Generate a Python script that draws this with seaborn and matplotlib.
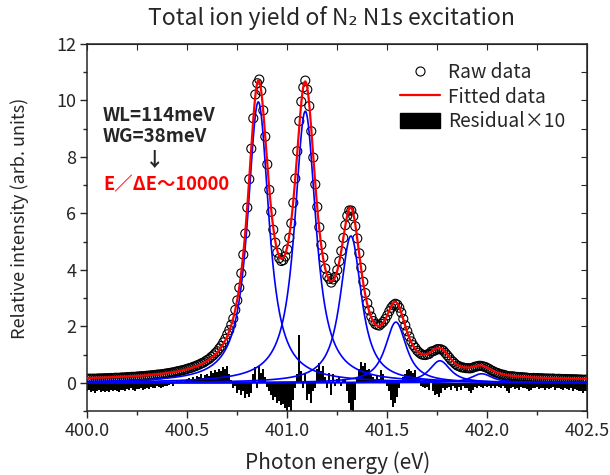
import numpy as np
import pandas as pd
import matplotlib
matplotlib.use("Agg")
import matplotlib.pyplot as plt
from matplotlib.lines import Line2D
from matplotlib.patches import Patch
from matplotlib.ticker import MultipleLocator
import seaborn as sns

sns.set_style("ticks")
plt.rcParams['font.family'] = ['Noto Sans CJK JP', 'DejaVu Sans']
plt.rcParams['axes.unicode_minus'] = False

# --- data ---
# vibrational components of the N1s -> pi* band (centre eV, peak height)
peak_centers = [400.855, 401.090, 401.318, 401.543, 401.763, 401.972]
peak_heights = [9.95, 9.62, 5.20, 2.15, 0.78, 0.32]
background = 0.08
wl = 0.114   # Lorentzian FWHM (eV), from the annotation
wg = 0.038   # Gaussian FWHM (eV)

# raw data sampled every 10 meV from 400.00 to 402.50
energy = np.round(np.arange(400.0, 402.5001, 0.01), 2)

# residual x10 (raw - fit), one value per data point
residual_x10 = [
    -0.30, -0.25, -0.32, -0.28, -0.35, -0.30, -0.27, -0.33, -0.29, -0.31,
    -0.28, -0.34, -0.26, -0.30, -0.24, -0.29, -0.32, -0.25, -0.27, -0.30,
    -0.22, -0.26, -0.20, -0.24, -0.28, -0.21, -0.23, -0.19, -0.25, -0.22,
    -0.18, -0.22, -0.15, -0.20, -0.17, -0.12, -0.16, -0.19, -0.14, -0.10,
    -0.12, -0.08, -0.05, -0.10, -0.02, 0.05, 0.03, 0.08, 0.02, 0.10,
    0.12, 0.18, 0.10, 0.22, 0.15, 0.25, 0.20, 0.30, 0.18, 0.28,
    0.32, 0.25, 0.40, 0.35, 0.45, 0.38, 0.50, 0.42, 0.55, 0.48,
    0.60, 0.30, 0.10, -0.20, -0.10, -0.35, -0.25, -0.45, -0.30, -0.55,
    -0.40, -0.50, -0.35, 0.30, 0.55, -0.20, 0.60, 0.35, 0.50, 0.20,
    -0.15, -0.30, -0.45, -0.60, -0.50, -0.70, -0.65, -0.80, -0.75, -0.90,
    -1.00, -0.85, -1.05, -0.60, -0.20, 0.30, 1.70, 0.40, -0.20, 0.30,
    -0.60, -0.40, -0.70, -0.30, -0.20, 0.50, 0.70, 0.40, 0.60, 0.20,
    -0.20, 0.35, -0.45, 0.30, -0.10, 0.15, 0.20, -0.10, 0.10, 0.15,
    -0.30, -0.70, -0.95, -1.00, -0.60, 0.20, 0.50, 0.75, 0.60, 0.70,
    0.45, 0.50, 0.30, 0.20, 0.10, 0.25, 0.15, 0.45, 0.30, 0.10,
    -0.10, -0.30, -0.60, -0.85, -0.70, -0.50, -0.20, 0.10, 0.20, 0.30,
    0.45, 0.50, 0.40, 0.35, 0.45, 0.20, 0.10, -0.10, -0.15, -0.20,
    -0.15, -0.25, 0.10, -0.30, -0.45, -0.40, -0.50, -0.35, -0.20, -0.25,
    -0.20, -0.15, -0.25, -0.10, -0.20, -0.30, -0.15, -0.25, -0.10, -0.20,
    -0.20, -0.30, -0.35, -0.25, -0.15, -0.20, -0.10, -0.15, -0.20, -0.12,
    -0.15, -0.10, -0.20, -0.12, -0.18, -0.10, -0.15, -0.20, -0.12, -0.18,
    -0.30, -0.35, -0.20, -0.15, -0.22, -0.18, -0.25, -0.15, -0.20, -0.18,
    -0.22, -0.30, -0.25, -0.18, -0.20, -0.15, -0.22, -0.18, -0.20, -0.25,
    -0.18, -0.22, -0.20, -0.15, -0.25, -0.20, -0.18, -0.22, -0.25, -0.20,
    -0.22, -0.25, -0.20, -0.28, -0.22, -0.25, -0.30, -0.28, -0.35, -0.30,
    -0.28,
]


# Voigt profile (numerical convolution), normalised to 1 at the centre
def voigt(x, center):
    gamma = wl / 2
    sigma = wg / 2.3548
    t = np.linspace(-6 * sigma, 6 * sigma, 241)
    g = np.exp(-t ** 2 / (2 * sigma ** 2))
    dx = x[:, None] - center - t[None, :]
    v = (g[None, :] * gamma ** 2 / (dx ** 2 + gamma ** 2)).sum(axis=1)
    v0 = (g * gamma ** 2 / (t ** 2 + gamma ** 2)).sum()
    return v / v0


x_fine = np.linspace(400.0, 402.5, 2501)
components = [h * voigt(x_fine, c) for c, h in zip(peak_centers, peak_heights)]
fit_fine = background + np.sum(components, axis=0)

fit_at_data = np.interp(energy, x_fine, fit_fine)
raw = fit_at_data + np.array(residual_x10) / 10.0

df_raw = pd.DataFrame({'energy': energy, 'intensity': raw, 'resid': residual_x10})

# --- plot ---
fig = plt.figure(figsize=(6.1, 4.75), dpi=100)
ax = fig.add_axes([0.1431, 0.1347, 0.8197, 0.7726])

ax.bar(df_raw['energy'], df_raw['resid'], width=0.0095, color='black', linewidth=0, zorder=1)

sns.scatterplot(data=df_raw, x='energy', y='intensity', marker='o', s=42,
                facecolor='none', edgecolor='black', linewidth=0.8, ax=ax, zorder=2)

for comp in components:
    sns.lineplot(x=x_fine, y=comp, color='#0000FF', lw=1.2, ax=ax,
                 estimator=None, sort=False, zorder=3)

sns.lineplot(x=x_fine, y=fit_fine, color='#FF0000', lw=1.6, ax=ax,
             estimator=None, sort=False, zorder=4)

ax.set_xlim(400.0, 402.5)
ax.set_ylim(-1, 12)
ax.xaxis.set_major_locator(MultipleLocator(0.5))
ax.xaxis.set_minor_locator(MultipleLocator(0.25))
ax.yaxis.set_major_locator(MultipleLocator(2))
ax.yaxis.set_minor_locator(MultipleLocator(1))
ax.set_xticklabels([f"{v:.1f}" for v in ax.get_xticks()])
ax.tick_params(which='major', direction='out', length=5, width=1, labelsize=13, pad=3)
ax.tick_params(which='minor', direction='out', length=3, width=1)
for sp in ax.spines.values():
    sp.set_linewidth(1.1)
    sp.set_visible(True)

top = ax.secondary_xaxis('top')
top.xaxis.set_major_locator(MultipleLocator(0.25))
top.tick_params(direction='in', length=4, labeltop=False)
right = ax.secondary_yaxis('right')
right.yaxis.set_major_locator(MultipleLocator(1))
right.tick_params(direction='in', length=4, labelright=False)

ax.set_xlabel('')
ax.set_ylabel('')
fig.text(0.553, 0.026, 'Photon energy (eV)', ha='center', va='center', fontsize=15)
fig.text(0.033, 0.54, 'Relative intensity (arb. units)', ha='center', va='center',
         rotation=90, fontsize=13)
fig.text(0.543, 0.963, 'Total ion yield of N₂ N1s excitation', ha='center',
         va='center', fontsize=16.5)

# annotation block
ax.text(400.078, 9.48, 'WL=114meV', fontsize=13.5, fontweight='bold', va='center', ha='left')
ax.text(400.078, 8.72, 'WG=38meV', fontsize=13.5, fontweight='bold', va='center', ha='left')
ax.text(400.338, 7.88, '↓', fontsize=14, fontweight='bold', va='center', ha='center')
ax.text(400.078, 7.03, 'E／ΔE〜10000', fontsize=13.2, fontweight='bold', color='#FF0000',
        va='center', ha='left')

handles = [
    Line2D([], [], marker='o', ls='none', mfc='none', mec='black', ms=6.5, mew=0.8),
    Line2D([], [], color='#FF0000', lw=1.6),
    Patch(facecolor='black', edgecolor='black'),
]
ax.legend(handles, ['Raw data', 'Fitted data', 'Residual×10'], loc='upper left',
          bbox_to_anchor=(0.656, 0.870), bbox_transform=fig.transFigure,
          frameon=False, fontsize=13.8, handlelength=2.1, handleheight=0.85,
          handletextpad=0.4, labelspacing=0.2, borderpad=0, borderaxespad=0)

fig.savefig('out.png', dpi=100)
